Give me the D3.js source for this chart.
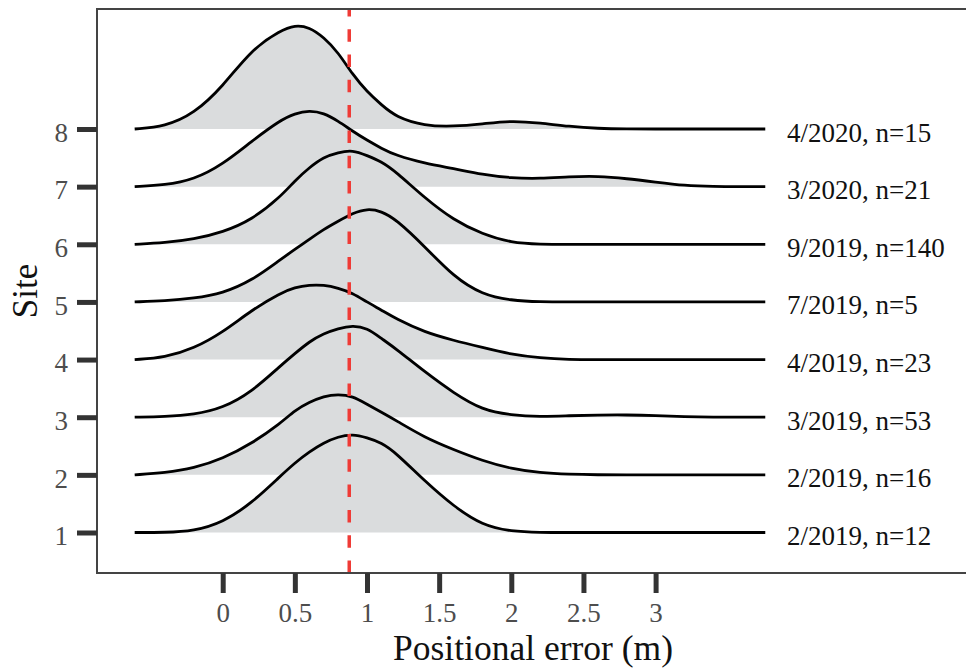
<!DOCTYPE html>
<html>
<head>
<meta charset="utf-8">
<script src="https://cdnjs.cloudflare.com/ajax/libs/d3/7.8.5/d3.min.js"></script>
<style>
    body { margin: 0; background: #fff; }
    text { font-family: "Liberation Serif", "Times New Roman", serif; }
</style>
</head>
<body>
<div id="chart"></div>
<script>
// positional error grid (m) and ridge densities
var errGrid = [-0.61, -0.4, -0.2, 0, 0.2, 0.4, 0.5, 0.6, 0.7, 0.8, 0.9, 1.0, 1.1, 1.2, 1.4, 1.6, 1.8, 2.0, 2.2, 2.4, 2.6, 2.8, 3.0, 3.2, 3.4, 3.6, 3.76];

var dens1 = [0, 0, .015, .10, .29, .56, .69, .80, .89, .95, .975, .94, .89, .79, .51, .26, .07, .01, 0, 0, 0, 0, 0, 0, 0, 0, 0];
var dens2 = [0, .02, .065, .16, .31, .51, .64, .72, .78, .80, .78, .70, .62, .54, .37, .25, .14, .06, .02, .005, 0, 0, 0, 0, 0, 0, 0];
var dens3 = [0, .005, .025, .09, .25, .51, .63, .75, .83, .88, .91, .885, .78, .68, .45, .24, .07, .02, .005, .015, .022, .023, .018, .005, 0, 0, 0];
var dens4 = [0, .02, .11, .27, .49, .66, .715, .74, .74, .71, .66, .57, .49, .405, .27, .19, .12, .05, .015, 0, 0, 0, 0, 0, 0, 0, 0];
var dens5 = [0, .01, .035, .085, .21, .42, .52, .62, .72, .80, .88, .925, .90, .82, .55, .25, .07, .015, 0, 0, 0, 0, 0, 0, 0, 0, 0];
var dens6 = [0, .015, .05, .12, .24, .47, .63, .76, .865, .91, .935, .88, .82, .72, .46, .24, .10, .015, 0, 0, 0, 0, 0, 0, 0, 0, 0];
var dens7 = [0, .015, .07, .22, .45, .66, .725, .755, .73, .65, .55, .46, .38, .31, .23, .18, .12, .085, .08, .098, .105, .08, .045, .01, 0, 0, 0];
var dens8 = [0, .025, .15, .42, .79, .975, 1.03, 1.01, .91, .76, .54, .37, .24, .12, .03, .025, .05, .083, .06, .025, .005, 0, 0, 0, 0, 0, 0];

var sites = [1, 2, 3, 4, 5, 6, 7, 8];
var surveyLabels = ["2/2019, n=12", "2/2019, n=16", "3/2019, n=53", "4/2019, n=23",
    "7/2019, n=5", "9/2019, n=140", "3/2020, n=21", "4/2020, n=15"];
var xTicks = [0, 0.5, 1, 1.5, 2, 2.5, 3];
var xTickLabels = ["0", "0.5", "1", "1.5", "2", "2.5", "3"];
var meanError = 0.877;

var width = 966, height = 671;
var panel = {left: 97, top: 9, bottom: 573};
var serif = "'Liberation Serif', 'Times New Roman', serif";

var svg = d3.select("#chart")
    .append("svg")
    .attr("width", width)
    .attr("height", height);

var x = d3.scaleLinear().domain([0, 3]).range([222.7, 655.6]);
var y = d3.scaleLinear().domain([1, 8]).range([532.5, 129]);
var ridgeScale = 1.75; // one unit of density, in site spacings

var ridges = sites.map(function (s, i) {
    var d = [dens1, dens2, dens3, dens4, dens5, dens6, dens7, dens8][i];
    return {
        site: s,
        label: surveyLabels[i],
        pts: errGrid.map(function (e, j) { return {e: e, d: d[j]}; })
    };
});

// draw top ridge first so lower ridges sit in front
var ridgeG = svg.append("g");
ridges.slice().reverse().forEach(function (r) {
    var area = d3.area()
        .curve(d3.curveBasis)
        .x(function (p) { return x(p.e); })
        .y0(y(r.site))
        .y1(function (p) { return y(r.site + p.d * ridgeScale); });
    var line = d3.line()
        .curve(d3.curveBasis)
        .x(function (p) { return x(p.e); })
        .y(function (p) { return y(r.site + p.d * ridgeScale); });
    ridgeG.append("path")
        .datum(r.pts)
        .attr("d", area)
        .attr("fill", "#dadcdd");
    ridgeG.append("path")
        .datum(r.pts)
        .attr("d", line)
        .attr("fill", "none")
        .attr("stroke", "#000")
        .attr("stroke-width", 2.8);
});

// mean error line
svg.append("line")
    .attr("x1", x(meanError)).attr("x2", x(meanError))
    .attr("y1", panel.bottom).attr("y2", panel.top)
    .attr("stroke", "#ef3b36")
    .attr("stroke-width", 3.5)
    .attr("stroke-dasharray", "12.5,12.8");

// ridge labels on the right
svg.append("g")
    .selectAll("text")
    .data(ridges)
    .enter()
    .append("text")
    .attr("x", 787)
    .attr("y", function (r) { return y(r.site) + 12.5; })
    .attr("font-size", 27)
    .attr("fill", "#111")
    .text(function (r) { return r.label; });

// panel border (open to the right edge)
svg.append("path")
    .attr("d", "M" + (width + 10) + "," + panel.top + "H" + panel.left + "V" + panel.bottom + "H" + (width + 10))
    .attr("fill", "none")
    .attr("stroke", "#444")
    .attr("stroke-width", 2);

var yAxis = svg.append("g")
    .attr("transform", "translate(" + panel.left + ",0)")
    .call(d3.axisLeft(y).tickValues(sites).tickSize(20).tickPadding(9).tickFormat(d3.format("d")));
yAxis.select(".domain").remove();
yAxis.selectAll(".tick line").attr("stroke", "#333").attr("stroke-width", 5);
yAxis.selectAll(".tick text")
    .attr("font-size", 27)
    .attr("fill", "#4d4d4d")
    .attr("dy", "0.45em")
    .style("font-family", serif);

var xAxis = svg.append("g")
    .attr("transform", "translate(0," + panel.bottom + ")")
    .call(d3.axisBottom(x).tickValues(xTicks).tickSize(20).tickPadding(10)
        .tickFormat(function (d, i) { return xTickLabels[i]; }));
xAxis.select(".domain").remove();
xAxis.selectAll(".tick line").attr("stroke", "#333").attr("stroke-width", 5);
xAxis.selectAll(".tick text")
    .attr("font-size", 27)
    .attr("fill", "#4d4d4d")
    .style("font-family", serif);

svg.append("text")
    .attr("x", 533)
    .attr("y", 660)
    .attr("text-anchor", "middle")
    .attr("font-size", 35.5)
    .attr("fill", "#111")
    .text("Positional error (m)");

svg.append("text")
    .attr("transform", "translate(37," + ((panel.top + panel.bottom) / 2) + ") rotate(-90)")
    .attr("text-anchor", "middle")
    .attr("font-size", 35)
    .attr("fill", "#111")
    .text("Site");
</script>
</body>
</html>
